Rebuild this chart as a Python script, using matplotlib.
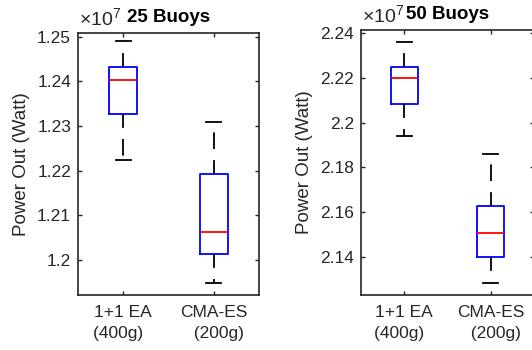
import numpy as np
import matplotlib
matplotlib.use("Agg")
import matplotlib.pyplot as plt
from matplotlib.ticker import FixedLocator, FuncFormatter

plt.rcParams['font.family'] = ['Liberation Sans', 'DejaVu Sans']
plt.rcParams['mathtext.fontset'] = 'custom'
plt.rcParams['mathtext.rm'] = 'Liberation Sans'
plt.rcParams['lines.scale_dashes'] = False

labels = ["1+1 EA\n(400g)  ", "CMA-ES\n  (200g)"]

# box stats, power out in units of 1e7 W
b25_whislo = [1.2224, 1.1949]
b25_q1 = [1.2327, 1.2013]
b25_med = [1.2403, 1.2063]
b25_q3 = [1.2433, 1.2192]
b25_whishi = [1.2489, 1.2310]

b50_whislo = [2.1940, 2.1282]
b50_q1 = [2.2083, 2.1399]
b50_med = [2.2198, 2.1506]
b50_q3 = [2.2248, 2.1627]
b50_whishi = [2.2362, 2.1858]

panels = [
    ("25 Buoys", (b25_whislo, b25_q1, b25_med, b25_q3, b25_whishi),
     [1.20, 1.21, 1.22, 1.23, 1.24, 1.25], (1.1922, 1.2508),
     [78, 33, 181, 262]),
    ("50 Buoys", (b50_whislo, b50_q1, b50_med, b50_q3, b50_whishi),
     [2.14, 2.16, 2.18, 2.20, 2.22, 2.24], (2.1228, 2.2415),
     [361, 30, 173, 265]),
]

W, H = 532, 350
fig = plt.figure(figsize=(W / 100, H / 100), dpi=100)
axcol = '#262626'

for title, stats, yticks, ylim, (px, py, pw, ph) in panels:
    ax = fig.add_axes([px / W, 1 - (py + ph) / H, pw / W, ph / H])
    lo, q1, med, q3, hi = stats
    bxpstats = [dict(whislo=lo[i], q1=q1[i], med=med[i], q3=q3[i],
                     whishi=hi[i], fliers=[]) for i in range(2)]
    ax.bxp(bxpstats, positions=[1, 2], widths=0.31, showfliers=False,
           boxprops=dict(color='blue', linewidth=1.3),
           medianprops=dict(color='red', linewidth=1.3),
           whiskerprops=dict(color='black', linewidth=1.3,
                             linestyle=(2, (12, 8))),
           capprops=dict(color='black', linewidth=1.3),
           capwidths=0.17)
    ax.set_xlim(0.5, 2.5)
    ax.set_ylim(*ylim)
    ax.yaxis.set_major_locator(FixedLocator(yticks))
    ax.yaxis.set_major_formatter(FuncFormatter(lambda v, p: f"{v:g}"))
    ax.set_xticks([1, 2])
    ax.set_xticklabels(labels, linespacing=1.5)
    ax.tick_params(direction='in', top=True, right=True, length=3,
                   width=1.0, colors=axcol, labelsize=12.5, pad=5)
    ax.tick_params(axis='x', pad=7)
    for s in ax.spines.values():
        s.set_color(axcol)
        s.set_linewidth(1.2)
    ax.set_ylabel("Power Out (Watt)", fontsize=13.5, color=axcol, labelpad=5)
    # title sits just right of the exponent label, like MATLAB
    ax.set_title(title, fontsize=13.5, fontweight='bold', pad=8)
    ax.text(0.005, 1.01, r"$\times10^{7}$", transform=ax.transAxes,
            fontsize=14, color=axcol, ha='left', va='bottom')

fig.savefig("out.png", dpi=100)
